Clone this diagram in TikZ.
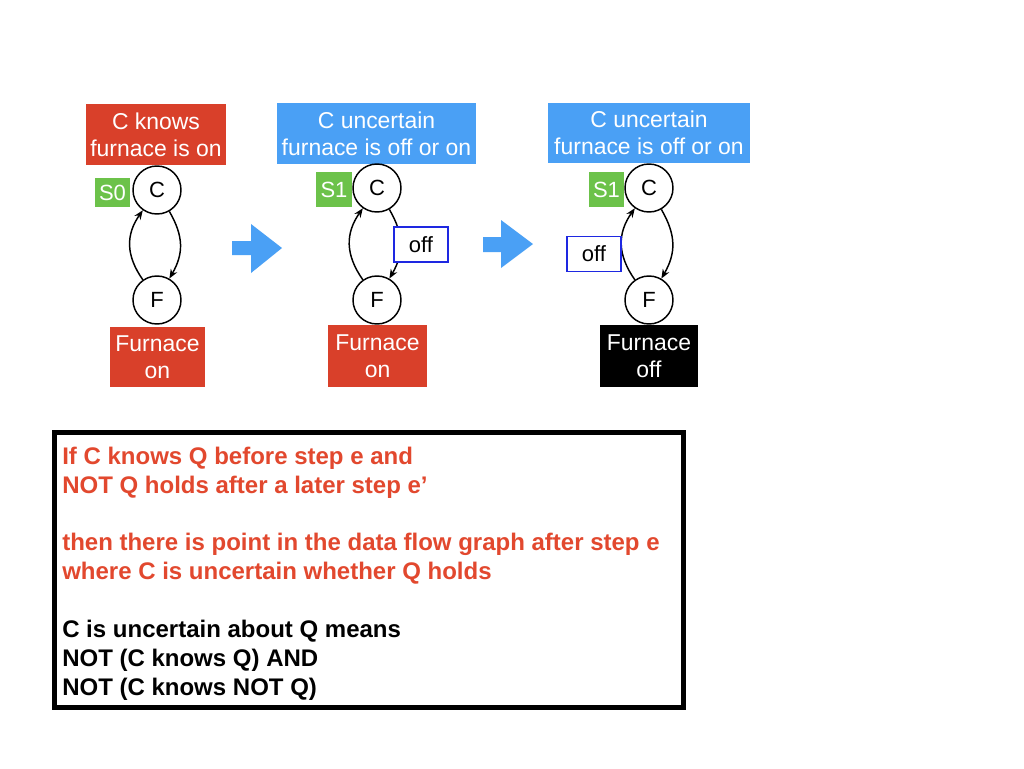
\documentclass[tikz,border=0pt]{standalone}
\usepackage{fontspec}
\setmainfont{Liberation Sans}
\usetikzlibrary{arrows.meta}
\definecolor{boxred}{RGB}{217,64,42}
\definecolor{boxblue}{RGB}{74,160,245}
\definecolor{sgreen}{RGB}{108,194,74}
\definecolor{offblue}{RGB}{30,40,225}
\definecolor{txtred}{RGB}{226,72,46}
\begin{document}
\begin{tikzpicture}[x=0.75pt,y=-0.75pt,
  lbl/.style={text=white, font=\fontsize{17.2}{20.25}\selectfont, align=center, inner sep=0pt},
  redlbl/.style={lbl, fill=boxred},
  bluelbl/.style={lbl, fill=boxblue},
  blacklbl/.style={lbl, fill=black},
  state/.style={circle, draw, line width=1.1pt, fill=white, minimum size=36pt, inner sep=0pt, font=\fontsize{16.5}{18}\selectfont},
  sbox/.style={fill=sgreen, text=white, inner sep=0pt, font=\fontsize{16.5}{18}\selectfont},
  offbox/.style={draw=offblue, line width=1.1pt, fill=white, inner sep=0pt, minimum width=40.5pt, minimum height=26.25pt, font=\fontsize{16.5}{18}\selectfont},
  edge/.style={line width=1.1pt, -{Stealth[length=7pt,width=5.5pt]}},
  bigarrow/.style={fill=boxblue},
  rule/.style={anchor=base west, inner sep=0pt, font=\bfseries\fontsize{18}{20}\selectfont},
]
\useasboundingbox[fill=white] (0,0) rectangle (1024,768);

% ---- panel 1
\node[redlbl, minimum width=105pt, minimum height=45.75pt] (k1) at (156,134.5) {C knows\\furnace is on};
\node[state] (C1) at (157,190) {C};
\node[state] (F1) at (157,300) {F};
\node[sbox, minimum width=26.25pt, minimum height=21.75pt] (s1) at (112.5,192.5) {S0};
\draw[edge] (C1) to[out=-60,in=60,looseness=1.1] (F1);
\draw[edge] (F1) to[out=125,in=-125,looseness=1.1] (C1);
\node[redlbl, minimum width=71.25pt, minimum height=45pt] (b1) at (157.5,357) {Furnace\\on};

\fill[bigarrow] (232,241) -- (251,241) -- (251,224) -- (282,248) -- (251,273) -- (251,255) -- (232,255) -- cycle;

% ---- panel 2
\node[bluelbl, minimum width=149.25pt, minimum height=45.75pt] (k2) at (376.5,133.5) {C uncertain\\furnace is off or on};
\node[state] (C2) at (377,188) {C};
\node[state] (F2) at (377,300) {F};
\node[sbox, minimum width=27pt, minimum height=26.25pt] (s2) at (334,189.5) {S1};
\draw[edge] (C2) to[out=-60,in=60,looseness=1.1] (F2);
\draw[edge] (F2) to[out=125,in=-125,looseness=1.1] (C2);
\node[offbox] (o2) at (421,244.5) {off};
\node[redlbl, minimum width=74.25pt, minimum height=46.5pt] (b2) at (377.5,356) {Furnace\\on};

\fill[bigarrow] (483,237) -- (501,237) -- (501,220) -- (533,244) -- (501,268) -- (501,252) -- (483,252) -- cycle;

% ---- panel 3
\node[bluelbl, minimum width=151.5pt, minimum height=45pt] (k3) at (649,133) {C uncertain\\furnace is off or on};
\node[state] (C3) at (649,188) {C};
\node[state] (F3) at (649,300) {F};
\node[sbox, minimum width=26.25pt, minimum height=26.25pt] (s3) at (606.5,189.5) {S1};
\draw[edge] (C3) to[out=-60,in=60,looseness=1.1] (F3);
\draw[edge] (F3) to[out=125,in=-125,looseness=1.1] (C3);
\node[offbox] (o3) at (594,254) {off};
\node[blacklbl, minimum width=73.5pt, minimum height=46.5pt] (b3) at (649,356) {Furnace\\off};

% ---- rule box
\node[draw, line width=3.75pt, minimum width=471.75pt, minimum height=206.25pt, inner sep=0pt] (tb) at (369,570) {};
\node[rule, text=txtred] (l1) at (62,464) {If C knows Q before step e and};
\node[rule, text=txtred] (l2) at (62,493) {NOT Q holds after a later step e’};
\node[rule, text=txtred] (l3) at (62,550) {then there is point in the data flow graph after step e};
\node[rule, text=txtred] (l4) at (62,579) {where C is uncertain whether Q holds};
\node[rule] (l5) at (62,637) {C is uncertain about Q means};
\node[rule] (l6) at (62,666) {NOT (C knows Q) AND};
\node[rule] (l7) at (62,695) {NOT (C knows NOT Q)};
\end{tikzpicture}
\end{document}
